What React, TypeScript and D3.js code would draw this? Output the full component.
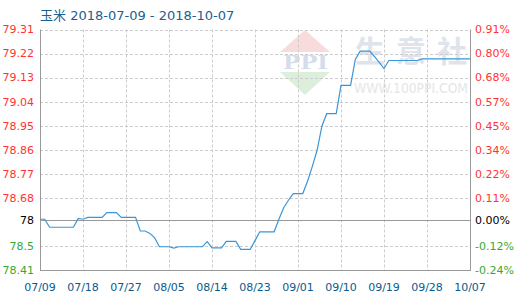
import React from "react";
import * as d3 from "d3";

const title = "玉米 2018-07-09 - 2018-10-07";
const startDate = "2018-07-09";
const prices = [
  78.6, 78.6, 78.57, 78.57, 78.57, 78.57, 78.57, 78.57, 78.603, 78.6,
  78.607, 78.607, 78.607, 78.607, 78.625, 78.625, 78.625, 78.607, 78.607, 78.607,
  78.607, 78.556, 78.556, 78.547, 78.53, 78.497, 78.497, 78.497, 78.492, 78.497,
  78.497, 78.497, 78.497, 78.497, 78.497, 78.516, 78.493, 78.493, 78.493, 78.517,
  78.517, 78.517, 78.487, 78.487, 78.487, 78.52, 78.553, 78.553, 78.553, 78.553,
  78.6, 78.643, 78.671, 78.696, 78.696, 78.696, 78.742, 78.798, 78.858, 78.948,
  78.995, 78.995, 78.995, 79.101, 79.101, 79.101, 79.198, 79.229, 79.229, 79.229,
  79.209, 79.187, 79.164, 79.194, 79.194, 79.194, 79.194, 79.194, 79.194, 79.194,
  79.2, 79.2, 79.2, 79.2, 79.2, 79.2, 79.2, 79.2, 79.2, 79.2, 79.2,
];
const baseValue = 78.596;
const baseLabel = "78";
const leftTickValues = [78.41, 78.5, 78.68, 78.77, 78.86, 78.95, 79.04, 79.13, 79.22, 79.31];
const leftTickLabels = ["78.41", "78.5", "78.68", "78.77", "78.86", "78.95", "79.04", "79.13", "79.22", "79.31"];
const rightTickLabels = ["-0.24%", "-0.12%", "0.11%", "0.22%", "0.34%", "0.45%", "0.57%", "0.68%", "0.80%", "0.91%"];
const xTickDates = ["2018-07-09", "2018-07-18", "2018-07-27", "2018-08-05", "2018-08-14", "2018-08-23", "2018-09-01", "2018-09-10", "2018-09-19", "2018-09-28", "2018-10-07"];

const W = 520, H = 300;
const L = 40, R = 470, T = 29.5, B = 270;
const RED = "#ff3333", GREEN = "#33aa33", BLUE_TXT = "#0b5a8c";
const FONT = "DejaVu Sans, Verdana, sans-serif";

export default function App() {
  const parse = d3.timeParse("%Y-%m-%d");
  const start = parse(startDate) as Date;
  const dates = prices.map((_, i) => d3.timeDay.offset(start, i));
  const x = d3.scaleTime().domain([start, parse(xTickDates[xTickDates.length - 1]) as Date]).range([L, R]);
  const y = d3.scaleLinear().domain([78.41, 79.31]).range([B, T]);
  const fmt = d3.timeFormat("%m/%d");
  const line = d3.line<number>().x((_, i) => x(dates[i])).y((v) => y(v)).curve(d3.curveLinear);
  const px = (v: number) => Math.round(v) + 0.5;

  return (
    <svg width={W} height={H} style={{ position: "absolute", left: 0, top: 0, background: "#fff" }} fontFamily={FONT}>
      <rect x={0} y={0} width={W} height={H} fill="#fff" />
      {/* watermark */}
      <g>
        <polygon points="305,30 330,52 280,52" fill="#f8dcdc" />
        <polygon points="280,72 330,72 305,95" fill="#dcefdc" />
        <text x={283} y={69} fontSize={19} fontWeight="bold" fill="#d6ddea" fontFamily="DejaVu Serif, serif" textLength={45} lengthAdjust="spacingAndGlyphs">PPI</text>
        <text x={355} y={62} fontSize={30} fill="#dfe4ec" fontFamily="Noto Sans CJK SC" fontWeight="bold" textLength={112} lengthAdjust="spacing">生意社</text>
        <text x={354} y={93} fontSize={14} fill="#e6e6e6" fontFamily="DejaVu Sans, sans-serif" textLength={114} lengthAdjust="spacingAndGlyphs">WWW.100PPI.COM</text>
      </g>
      {/* horizontal grid */}
      {leftTickValues.map((v, i) => (
        <line key={"h" + i} x1={L} x2={R} y1={px(y(v))} y2={px(y(v))} stroke="#cccccc" strokeDasharray="3,2" />
      ))}
      {/* vertical grid */}
      {xTickDates.slice(1, -1).map((d, i) => (
        <line key={"v" + i} x1={px(x(parse(d) as Date))} x2={px(x(parse(d) as Date))} y1={T} y2={B} stroke="#cccccc" strokeDasharray="3,2" />
      ))}
      {/* base line */}
      <line x1={L} x2={R} y1={px(y(baseValue))} y2={px(y(baseValue))} stroke="#999999" />
      {/* axes */}
      <line x1={px(L)} x2={px(L)} y1={T} y2={B} stroke="#999999" />
      <line x1={px(R)} x2={px(R)} y1={T} y2={B} stroke="#999999" />
      <line x1={L} x2={R + 1} y1={px(B)} y2={px(B)} stroke="#999999" />
      {/* data line */}
      <path d={line(prices) || ""} fill="none" stroke="#3a96d8" strokeWidth={1.2} />
      {/* left labels */}
      {leftTickValues.map((v, i) => (
        <text key={"l" + i} x={34} y={y(v)} dy="0.35em" textAnchor="end" fontSize={11} fill={v > baseValue ? RED : GREEN}>{leftTickLabels[i]}</text>
      ))}
      <text x={34} y={y(baseValue)} dy="0.35em" textAnchor="end" fontSize={11} fill="#000">{baseLabel}</text>
      {/* right labels */}
      {leftTickValues.map((v, i) => (
        <text key={"r" + i} x={475} y={y(v)} dy="0.35em" fontSize={11} fill={v > baseValue ? RED : GREEN}>{rightTickLabels[i]}</text>
      ))}
      <text x={475} y={y(baseValue)} dy="0.35em" fontSize={11} fill="#000">0.00%</text>
      {/* x labels */}
      {xTickDates.map((d, i) => (
        <text key={"x" + i} x={x(parse(d) as Date)} y={287} dy="0.35em" textAnchor="middle" fontSize={11} fill={BLUE_TXT}>{fmt(parse(d) as Date)}</text>
      ))}
      {/* title */}
      <text x={40} y={15} dy="0.35em" fontSize={13} fill="#1a5f92" fontFamily="DejaVu Sans, Noto Sans CJK SC, sans-serif">{title}</text>
    </svg>
  );
}
